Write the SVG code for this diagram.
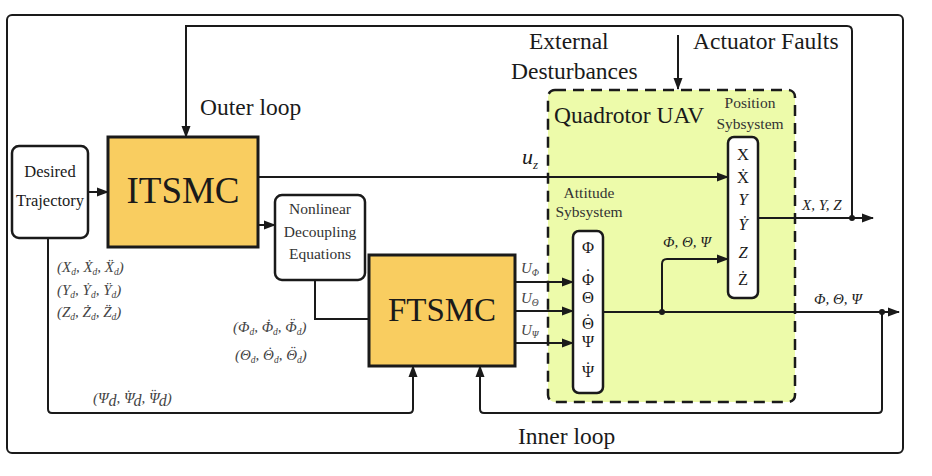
<svg xmlns="http://www.w3.org/2000/svg" width="932" height="476" viewBox="0 0 932 476">
<style>
text{font-family:"Liberation Serif","DejaVu Serif",serif;fill:#1a1a1a}
.big{font-size:23.5px}
.sm{font-size:16.5px}
.st{font-size:15.5px;fill:#333}
.var{font-size:16.5px;fill:#333}
.lbl{font-size:15px;font-style:italic;fill:#444}
.sub{font-size:9.5px}
.out{font-size:15px;font-style:italic;fill:#222}
.ctl{fill:#F9CD60;stroke:#1a1a1a;stroke-width:3}
.rb{fill:#fff;stroke:#1a1a1a;stroke-width:2.5}
.ln{fill:none;stroke:#1a1a1a;stroke-width:2}
.ar{marker-end:url(#ah)}
</style>
<defs>
<marker id="ah" markerWidth="12" markerHeight="10" refX="11" refY="5" orient="auto" markerUnits="userSpaceOnUse"><path d="M0,0.5 L12,5 L0,9.5 z" fill="#1a1a1a"/></marker>
</defs>
<rect x="7" y="15" width="896" height="438" rx="5" fill="none" stroke="#1a1a1a" stroke-width="2"/>
<g id="uav">
<rect x="548" y="90" width="247" height="312" rx="7" fill="#EDFBAA" stroke="#1a1a1a" stroke-width="2.5" stroke-dasharray="11,7"/>
<text class="big" x="554" y="123">Quadrotor UAV</text>
</g>
<g id="desired">
<rect class="rb" x="12" y="146" width="76" height="92" rx="7"/>
<text class="sm" x="50" y="177" text-anchor="middle">Desired</text>
<text class="sm" x="50" y="206" text-anchor="middle">Trajectory</text>
</g>
<g id="itsmc">
<rect class="ctl" x="108" y="137" width="150" height="110"/>
<text x="183" y="203" text-anchor="middle" font-size="37">ITSMC</text>
</g>
<g id="nonlinear">
<rect class="rb" x="275" y="195" width="90" height="85" rx="7"/>
<text class="st" x="320" y="214" text-anchor="middle">Nonlinear</text>
<text class="st" x="320" y="237" text-anchor="middle">Decoupling</text>
<text class="st" x="320" y="259" text-anchor="middle">Equations</text>
</g>
<g id="ftsmc">
<rect class="ctl" x="369" y="255" width="146" height="111"/>
<text x="442" y="321" text-anchor="middle" font-size="33">FTSMC</text>
</g>
<g id="attitude">
<text class="st" x="589" y="198" text-anchor="middle">Attitude</text>
<text class="st" x="589" y="217" text-anchor="middle">Sybsystem</text>
<rect class="rb" x="573" y="231" width="30" height="162" rx="6"/>
<g class="var" text-anchor="middle">
<text x="588" y="253">Φ</text>
<text x="588" y="280">˙</text>
<text x="588" y="285">Φ</text>
<text x="588" y="303">Θ</text>
<text x="588" y="325">˙</text>
<text x="588" y="329">Θ</text>
<text x="588" y="347">Ψ</text>
<text x="588" y="373">˙</text>
<text x="588" y="377">Ψ</text>
</g>
</g>
<g id="position">
<text class="st" x="750" y="108" text-anchor="middle">Position</text>
<text class="st" x="750" y="129" text-anchor="middle">Sybsystem</text>
<rect class="rb" x="728" y="137" width="30" height="161" rx="6"/>
<g class="var" text-anchor="middle">
<text x="743" y="160">X</text>
<text x="743" y="183">Ẋ</text>
<text x="743" y="205" font-style="italic">Y</text>
<text x="743" y="230" font-style="italic">Ẏ</text>
<text x="743" y="258" font-style="italic">Z</text>
<text x="743" y="285">Ż</text>
</g>
</g>
<g id="connectors">
<path class="ln ar" d="M852,218 V31 Q852,26 847,26 H186 V137"/>
<path class="ln ar" d="M678,35 V89"/>
<path class="ln ar" d="M88,192 H108"/>
<path class="ln ar" d="M258,225 H275"/>
<path class="ln" d="M315,280 V319 H369"/>
<path class="ln ar" d="M258,177 H728"/>
<path class="ln ar" d="M515,282 H573"/>
<path class="ln ar" d="M515,311 H573"/>
<path class="ln ar" d="M515,343 H573"/>
<path class="ln ar" d="M603,312 H899"/>
<path class="ln ar" d="M662,312 V264 Q662,259 667,259 H728"/>
<path class="ln ar" d="M758,218 H873"/>
<path class="ln ar" d="M48,238 V409 Q48,413 52,413 H409 Q413,413 413,409 V366"/>
<path class="ln ar" d="M882,312 V409 Q882,413 878,413 H484 Q480,413 480,409 V366"/>
<circle cx="662" cy="312" r="3" fill="#1a1a1a"/>
<circle cx="882" cy="312" r="3" fill="#1a1a1a"/>
<circle cx="852" cy="218" r="3" fill="#1a1a1a"/>
</g>
<g id="labels">
<text class="big" x="529" y="49">External</text>
<text class="big" x="511" y="79">Desturbances</text>
<text class="big" x="693" y="49">Actuator Faults</text>
<text class="big" x="200" y="115">Outer loop</text>
<text class="big" x="518" y="444">Inner loop</text>
<text x="522" y="164" font-size="22" font-style="italic">u<tspan font-size="13" dy="5">z</tspan></text>
<text class="lbl" x="521" y="273">U<tspan class="sub" dy="3">Φ</tspan></text>
<text class="lbl" x="521" y="303">U<tspan class="sub" dy="3">Θ</tspan></text>
<text class="lbl" x="521" y="335">U<tspan class="sub" dy="3">Ψ</tspan></text>
<text class="out" x="663" y="247">Φ, Θ, Ψ</text>
<text class="out" x="814" y="304">Φ, Θ, Ψ</text>
<text class="out" x="802" y="210" font-size="14.5">X, Y, Z</text>
<text class="lbl" x="57" y="272">(X<tspan class="sub" dy="3">d</tspan><tspan dy="-3">, Ẋ</tspan><tspan class="sub" dy="3">d</tspan><tspan dy="-3">, Ẍ</tspan><tspan class="sub" dy="3">d</tspan><tspan dy="-3">)</tspan></text>
<text class="lbl" x="57" y="295">(Y<tspan class="sub" dy="3">d</tspan><tspan dy="-3">, Ẏ</tspan><tspan class="sub" dy="3">d</tspan><tspan dy="-3">, Ÿ</tspan><tspan class="sub" dy="3">d</tspan><tspan dy="-3">)</tspan></text>
<text class="lbl" x="57" y="317">(Z<tspan class="sub" dy="3">d</tspan><tspan dy="-3">, Ż</tspan><tspan class="sub" dy="3">d</tspan><tspan dy="-3">, Z̈</tspan><tspan class="sub" dy="3">d</tspan><tspan dy="-3">)</tspan></text>
<text class="lbl" x="233" y="332">(Φ<tspan class="sub" dy="3">d</tspan><tspan dy="-3">, Φ</tspan><tspan dx="-7.5" dy="-3">˙</tspan><tspan class="sub" dx="2.5" dy="6">d</tspan><tspan dy="-3">, Φ</tspan><tspan dx="-7.5" dy="-3">¨</tspan><tspan class="sub" dx="2.5" dy="6">d</tspan><tspan dy="-3">)</tspan></text>
<text class="lbl" x="235" y="360">(Θ<tspan class="sub" dy="3">d</tspan><tspan dy="-3">, Θ</tspan><tspan dx="-7.2" dy="-3">˙</tspan><tspan class="sub" dx="2.2" dy="6">d</tspan><tspan dy="-3">, Θ</tspan><tspan dx="-7.2" dy="-3">¨</tspan><tspan class="sub" dx="2.2" dy="6">d</tspan><tspan dy="-3">)</tspan></text>
<text class="lbl" x="93" y="403" font-size="18">(Ψ<tspan font-size="16" dy="3">d</tspan><tspan dy="-3">, Ψ</tspan><tspan dx="-9.3" dy="-3">˙</tspan><tspan font-size="16" dx="3.3" dy="6">d</tspan><tspan dy="-3">, Ψ</tspan><tspan dx="-9.3" dy="-3">¨</tspan><tspan font-size="16" dx="3.3" dy="6">d</tspan><tspan dy="-3">)</tspan></text>
</g>
</svg>
